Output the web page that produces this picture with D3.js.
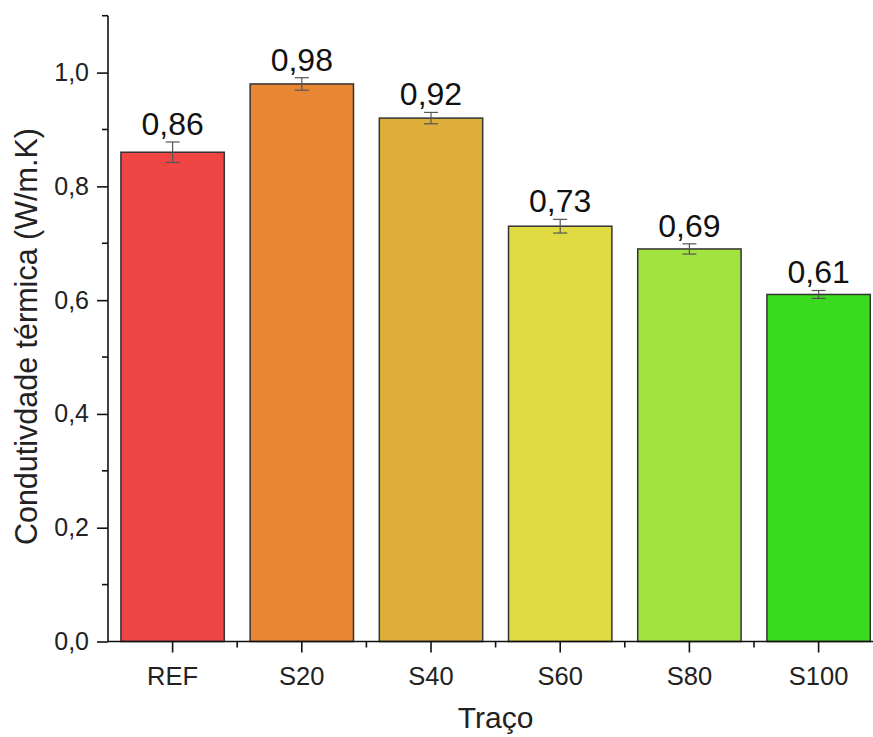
<!DOCTYPE html>
<html>
<head>
<meta charset="utf-8">
<script src="https://cdn.jsdelivr.net/npm/d3@7"></script>
<style>
  html, body { margin: 0; padding: 0; background: #fff; }
  svg { display: block; font-family: "Liberation Sans", Arial, sans-serif; }
</style>
</head>
<body>
<svg id="chart" width="873" height="737"></svg>
<script>
const categories = ["REF", "S20", "S40", "S60", "S80", "S100"];
const values = [0.86, 0.98, 0.92, 0.73, 0.69, 0.61];
const errors = [0.018, 0.011, 0.010, 0.012, 0.009, 0.007];
const valueLabels = ["0,86", "0,98", "0,92", "0,73", "0,69", "0,61"];
const colors = ["#F04545", "#E88634", "#DDAF3A", "#E0DB42", "#A3E340", "#3ADB1E"];
const yTicks = [0, 0.2, 0.4, 0.6, 0.8, 1.0];
const yMinorTicks = [0.1, 0.3, 0.5, 0.7, 0.9, 1.1];
const xTitle = "Traço";
const yTitle = "Condutivdade térmica (W/m.K)";

(function () {
const svg = d3.select("#chart");
const mLeft = 108, mBottom = 641.5, mTop = 15.7;
const step = 129.2;
const mRight = mLeft + step * categories.length;

const x = d3.scaleBand().domain(categories).range([mLeft, mRight]).paddingInner(0.2).paddingOuter(0.1);
const y = d3.scaleLinear().domain([0, 1.1]).range([mBottom, mTop]);

const fmt = d => d.toFixed(1).replace(".", ",");

// bars
svg.append("g").selectAll("rect").data(categories).join("rect")
  .attr("x", d => x(d))
  .attr("y", (d, i) => y(values[i]))
  .attr("width", x.bandwidth())
  .attr("height", (d, i) => y(0) - y(values[i]))
  .attr("fill", (d, i) => colors[i])
  .attr("stroke", "#333")
  .attr("stroke-width", 1.5);

// error bars
const eb = svg.append("g").attr("stroke", "#555").attr("stroke-width", 1.2);
categories.forEach((c, i) => {
  const cx = x(c) + x.bandwidth() / 2;
  const y1 = y(values[i] + errors[i]), y2 = y(values[i] - errors[i]);
  eb.append("line").attr("x1", cx).attr("x2", cx).attr("y1", y1).attr("y2", y2);
  eb.append("line").attr("x1", cx - 7).attr("x2", cx + 7).attr("y1", y1).attr("y2", y1);
  eb.append("line").attr("x1", cx - 7).attr("x2", cx + 7).attr("y1", y2).attr("y2", y2);
});

// value labels
svg.append("g").selectAll("text").data(categories).join("text")
  .attr("x", d => x(d) + x.bandwidth() / 2)
  .attr("y", (d, i) => y(values[i] + errors[i]) - 7)
  .attr("text-anchor", "middle")
  .attr("font-size", 32)
  .attr("fill", "#111")
  .text((d, i) => valueLabels[i]);

// y axis
const yAxis = svg.append("g").attr("transform", `translate(${mLeft},0)`)
  .call(d3.axisLeft(y).tickValues(yTicks).tickFormat(fmt).tickSize(11).tickPadding(8));
yAxis.select(".domain").attr("d", `M0,${mBottom}V${mTop}`).attr("stroke", "#111").attr("stroke-width", 1.6);
yAxis.selectAll(".tick line").attr("stroke", "#111").attr("stroke-width", 1.6);
yAxis.selectAll(".tick text").attr("font-size", 25).attr("fill", "#222").attr("font-family", "Liberation Sans, Arial, sans-serif");
yAxis.selectAll(".minor").data(yMinorTicks).join("line").attr("class", "minor")
  .attr("x1", -6).attr("x2", 0).attr("y1", d => y(d)).attr("y2", d => y(d))
  .attr("stroke", "#111").attr("stroke-width", 1.6);

// x axis
const xAxis = svg.append("g").attr("transform", `translate(0,${mBottom})`)
  .call(d3.axisBottom(x).tickSize(11).tickPadding(14));
xAxis.select(".domain").attr("d", `M${mLeft},0H${mRight}`).attr("stroke", "#111").attr("stroke-width", 1.6);
xAxis.selectAll(".tick line").attr("stroke", "#111").attr("stroke-width", 1.6);
xAxis.selectAll(".tick text").attr("font-size", 25.5).attr("fill", "#222").attr("font-family", "Liberation Sans, Arial, sans-serif");
xAxis.selectAll(".minor").data(categories.slice(1)).join("line").attr("class", "minor")
  .attr("x1", d => x(d) - x.step() * x.paddingInner() / 2)
  .attr("x2", d => x(d) - x.step() * x.paddingInner() / 2)
  .attr("y1", 0).attr("y2", 6)
  .attr("stroke", "#111").attr("stroke-width", 1.6);

// titles
svg.append("text")
  .attr("x", (mLeft + mRight) / 2).attr("y", 728)
  .attr("text-anchor", "middle").attr("font-size", 30).attr("fill", "#222")
  .text(xTitle);
svg.append("text")
  .attr("transform", `translate(37,${(mTop + mBottom) / 2 + 8}) rotate(-90)`)
  .attr("text-anchor", "middle").attr("font-size", 30.5).attr("fill", "#222")
  .text(yTitle);
})();
</script>
</body>
</html>
